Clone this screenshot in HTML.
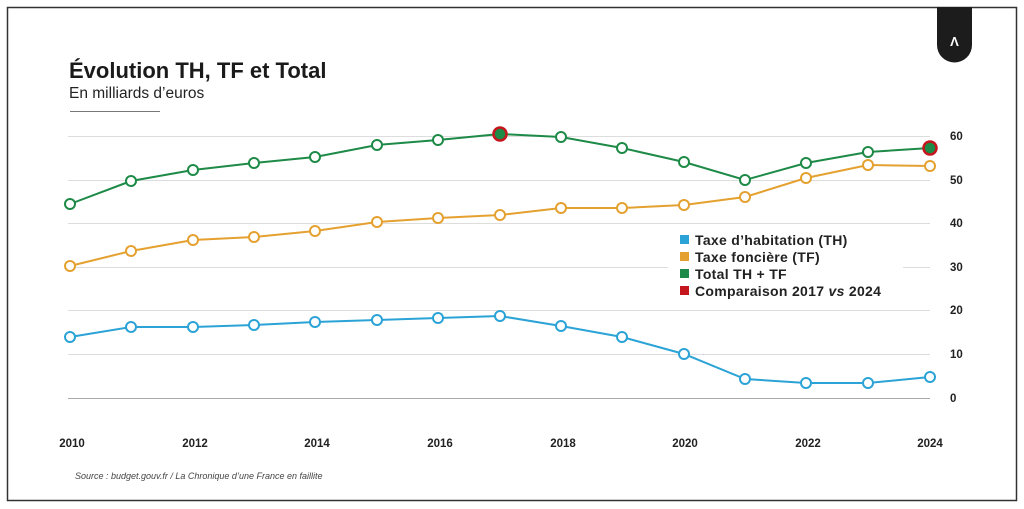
<!DOCTYPE html>
<html><head><meta charset="utf-8"><style>
html,body{margin:0;padding:0;background:#fff;}
svg{display:block;font-family:"Liberation Sans",sans-serif;}
</style></head><body>
<svg width="1024" height="509" viewBox="0 0 1024 509" xmlns="http://www.w3.org/2000/svg">
<rect x="7.5" y="7.5" width="1009" height="493" fill="#fff" stroke="#333" stroke-width="1.5"/>
<path d="M937 7 H972 V45 A17.5 17.5 0 0 1 937 45 Z" fill="#1c1c1c"/>
<text x="954.5" y="46" fill="#fff" font-size="13" font-weight="bold" text-anchor="middle">Λ</text>
<text x="69" y="78" font-size="22" font-weight="bold" fill="#1a1a1a">Évolution TH, TF et Total</text>
<text x="69" y="98" font-size="15.5" fill="#222">En milliards d’euros</text>
<line x1="70" y1="111.5" x2="160" y2="111.5" stroke="#777" stroke-width="1"/>
<g stroke="#ddd" stroke-width="1">
<line x1="68" y1="136.5" x2="930" y2="136.5"/><line x1="68" y1="180.5" x2="930" y2="180.5"/>
<line x1="68" y1="223.5" x2="930" y2="223.5"/><line x1="68" y1="267.5" x2="930" y2="267.5"/>
<line x1="68" y1="310.5" x2="930" y2="310.5"/><line x1="68" y1="354.5" x2="930" y2="354.5"/>
</g>
<line x1="68" y1="398.5" x2="930" y2="398.5" stroke="#aaa" stroke-width="1"/>
<g font-size="11.5" font-weight="bold" fill="#222">
<text x="950" y="140">60</text><text x="950" y="184">50</text><text x="950" y="227">40</text>
<text x="950" y="271">30</text><text x="950" y="314">20</text><text x="950" y="358">10</text><text x="950" y="402">0</text>
</g>
<g font-size="11.5" font-weight="bold" fill="#222" text-anchor="middle">
<text x="72" y="447">2010</text><text x="195" y="447">2012</text><text x="317" y="447">2014</text>
<text x="440" y="447">2016</text><text x="563" y="447">2018</text><text x="685" y="447">2020</text>
<text x="808" y="447">2022</text><text x="930" y="447">2024</text>
</g>
<text x="75" y="479" font-size="9" font-style="italic" fill="#444">Source : budget.gouv.fr / La Chronique d’une France en faillite</text>
<rect x="668" y="228" width="235" height="76" fill="#fff"/>
<g stroke-width="2" fill="#fff">
<polyline fill="none" stroke="#2ba3d6" points="70,337 131,327 193,327 254,325 315,322 377,320 438,318 500,316 561,326 622,337 684,354 745,379 806,383 868,383 930,377"/>
<polyline fill="none" stroke="#e5a12f" points="70,266 131,251 193,240 254,237 315,231 377,222 438,218 500,215 561,208 622,208 684,205 745,197 806,178 868,165 930,166"/>
<polyline fill="none" stroke="#1d8a47" points="70,204 131,181 193,170 254,163 315,157 377,145 438,140 500,134 561,137 622,148 684,162 745,180 806,163 868,152 930,148"/>
<g stroke="#2ba3d6"><circle cx="70" cy="337" r="5"/><circle cx="131" cy="327" r="5"/><circle cx="193" cy="327" r="5"/><circle cx="254" cy="325" r="5"/><circle cx="315" cy="322" r="5"/><circle cx="377" cy="320" r="5"/><circle cx="438" cy="318" r="5"/><circle cx="500" cy="316" r="5"/><circle cx="561" cy="326" r="5"/><circle cx="622" cy="337" r="5"/><circle cx="684" cy="354" r="5"/><circle cx="745" cy="379" r="5"/><circle cx="806" cy="383" r="5"/><circle cx="868" cy="383" r="5"/><circle cx="930" cy="377" r="5"/></g>
<g stroke="#e5a12f"><circle cx="70" cy="266" r="5"/><circle cx="131" cy="251" r="5"/><circle cx="193" cy="240" r="5"/><circle cx="254" cy="237" r="5"/><circle cx="315" cy="231" r="5"/><circle cx="377" cy="222" r="5"/><circle cx="438" cy="218" r="5"/><circle cx="500" cy="215" r="5"/><circle cx="561" cy="208" r="5"/><circle cx="622" cy="208" r="5"/><circle cx="684" cy="205" r="5"/><circle cx="745" cy="197" r="5"/><circle cx="806" cy="178" r="5"/><circle cx="868" cy="165" r="5"/><circle cx="930" cy="166" r="5"/></g>
<g stroke="#1d8a47"><circle cx="70" cy="204" r="5"/><circle cx="131" cy="181" r="5"/><circle cx="193" cy="170" r="5"/><circle cx="254" cy="163" r="5"/><circle cx="315" cy="157" r="5"/><circle cx="377" cy="145" r="5"/><circle cx="438" cy="140" r="5"/><circle cx="561" cy="137" r="5"/><circle cx="622" cy="148" r="5"/><circle cx="684" cy="162" r="5"/><circle cx="745" cy="180" r="5"/><circle cx="806" cy="163" r="5"/><circle cx="868" cy="152" r="5"/></g>
<circle cx="500" cy="134" r="6.5" fill="#1d8a47" stroke="#c4161c" stroke-width="2.5"/>
<circle cx="930" cy="148" r="6.5" fill="#1d8a47" stroke="#c4161c" stroke-width="2.5"/>
</g>
<g font-size="14" font-weight="bold" fill="#222" letter-spacing="0.3">
<rect x="680" y="235" width="9" height="9" fill="#2ba3d6"/><text x="695" y="245">Taxe d’habitation (TH)</text>
<rect x="680" y="252" width="9" height="9" fill="#e5a12f"/><text x="695" y="262">Taxe foncière (TF)</text>
<rect x="680" y="269" width="9" height="9" fill="#1d8a47"/><text x="695" y="279">Total TH + TF</text>
<rect x="680" y="286" width="9" height="9" fill="#c4161c"/><text x="695" y="296">Comparaison 2017 <tspan font-style="italic">vs</tspan> 2024</text>
</g>
</svg>
</body></html>
